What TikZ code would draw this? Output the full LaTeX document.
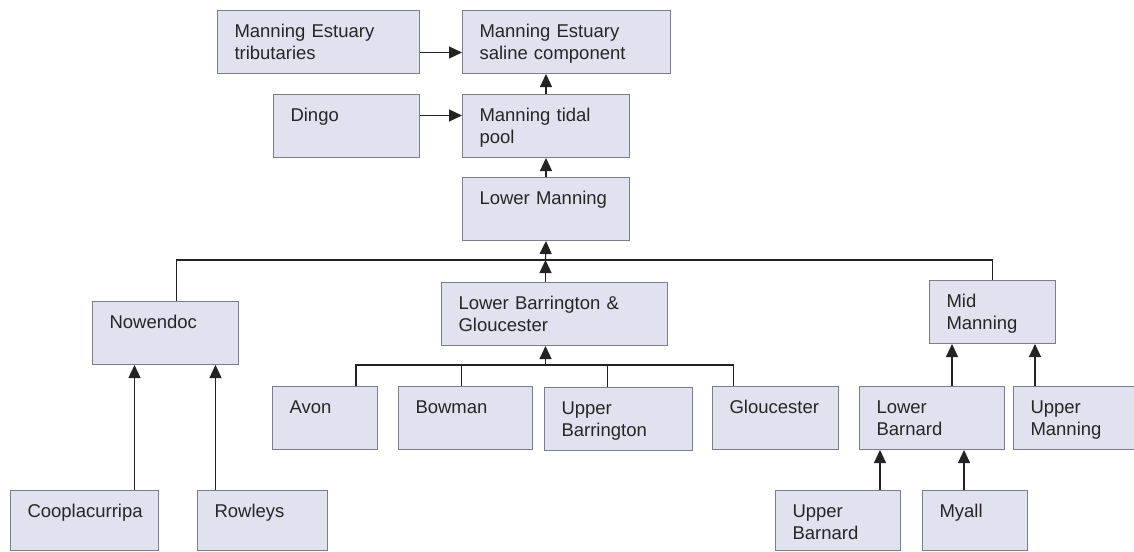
\documentclass[tikz,border=0pt]{standalone}
\usepackage{fontspec}
\setmainfont{Liberation Sans}
\usetikzlibrary{arrows.meta}
\definecolor{boxfill}{RGB}{224,226,239}
\definecolor{boxline}{RGB}{125,125,135}
\definecolor{linkcol}{RGB}{35,35,35}
\begin{document}
\begin{tikzpicture}[x=1pt,y=-1pt,>={Triangle[length=13pt,width=12pt]},
  every node/.style={font=\fontsize{18.5}{22}\selectfont,text=black!85},
  box/.style={draw=boxline,line width=1pt,fill=boxfill,anchor=north west,
    inner xsep=17pt,inner ysep=0pt,text width=#1-34pt,align=left,
    text height=27pt,text depth=36pt},
  link/.style={draw=linkcol,line width=1.2pt}]
\useasboundingbox (0,0) rectangle (1134,551);
\node[box=202pt] (trib) at (217,10) {Manning Estuary\\tributaries};
\node[box=208pt] (saline) at (462,10) {Manning Estuary\\saline component};
\node[box=146pt] (dingo) at (273,94) {Dingo};
\node[box=167pt] (tidal) at (462,94) {Manning tidal\\pool};
\node[box=167pt] (lowman) at (462,177) {Lower Manning};
\node[box=146pt] (nowen) at (92,301) {Nowendoc};
\node[box=226pt] (lbg) at (441,282) {Lower Barrington \&\\Gloucester};
\node[box=126pt] (midman) at (929,280) {Mid\\Manning};
\node[box=105pt] (avon) at (272,386) {Avon};
\node[box=134pt] (bowman) at (398,386) {Bowman};
\node[box=148pt] (upbarr) at (544,387) {Upper\\Barrington};
\node[box=126pt] (glouc) at (712,386) {Gloucester};
\node[box=145pt] (lowbarn) at (859,386) {Lower\\Barnard};
\node[box=121pt] (upman) at (1013,386) {Upper\\Manning};
\node[box=148pt,text depth=33pt] (coopla) at (10,490) {Cooplacurripa};
\node[box=130pt,text depth=33pt] (rowleys) at (197,490) {Rowleys};
\node[box=125pt,text depth=33pt] (upbarn) at (775,490) {Upper\\Barnard};
\node[box=105pt,text depth=33pt] (myall) at (922,490) {Myall};
\coordinate (bus) at (545.5,260);
\coordinate (sub) at (545.5,365);
\draw[link,->] ([yshift=-10.5pt]trib.east) -- ([yshift=-10.5pt]trib.east -| saline.west);
\draw[link,->] ([yshift=10.5pt]dingo.east) -- ([yshift=10.5pt]dingo.east -| tidal.west);
\draw[link,->] (tidal.north) -- (saline.south -| tidal.north);
\draw[link,->] (lowman.north) -- (tidal.south);
\draw[link] ([xshift=11pt]nowen.north) |- (bus) -| (midman.north);
\draw[link,->] (bus) -- (lowman.south);
\draw[link,->] (lbg.north -| bus) -- (bus);
\draw[link,->] (sub) -- (lbg.south -| sub);
\draw[link] ([xshift=31pt]avon.north) |- (sub) -| ([xshift=-42pt]glouc.north);
\draw[link] ([xshift=-4pt]bowman.north) |- (sub);
\draw[link] ([xshift=-11pt]upbarr.north) |- (sub);
\draw[link,->] ([xshift=50pt]coopla.north) -- ([xshift=50pt]coopla.north |- nowen.south);
\draw[link,->] ([xshift=-47pt]rowleys.north) -- ([xshift=-47pt]rowleys.north |- nowen.south);
\draw[link,->] ([xshift=20pt]lowbarn.north) -- ([xshift=20pt]lowbarn.north |- midman.south);
\draw[link,->] ([xshift=-39pt]upman.north) -- ([xshift=-39pt]upman.north |- midman.south);
\draw[link,->] ([xshift=42pt]upbarn.north) -- ([xshift=42pt]upbarn.north |- lowbarn.south);
\draw[link,->] ([xshift=-11pt]myall.north) -- ([xshift=-11pt]myall.north |- lowbarn.south);
\end{tikzpicture}
\end{document}
